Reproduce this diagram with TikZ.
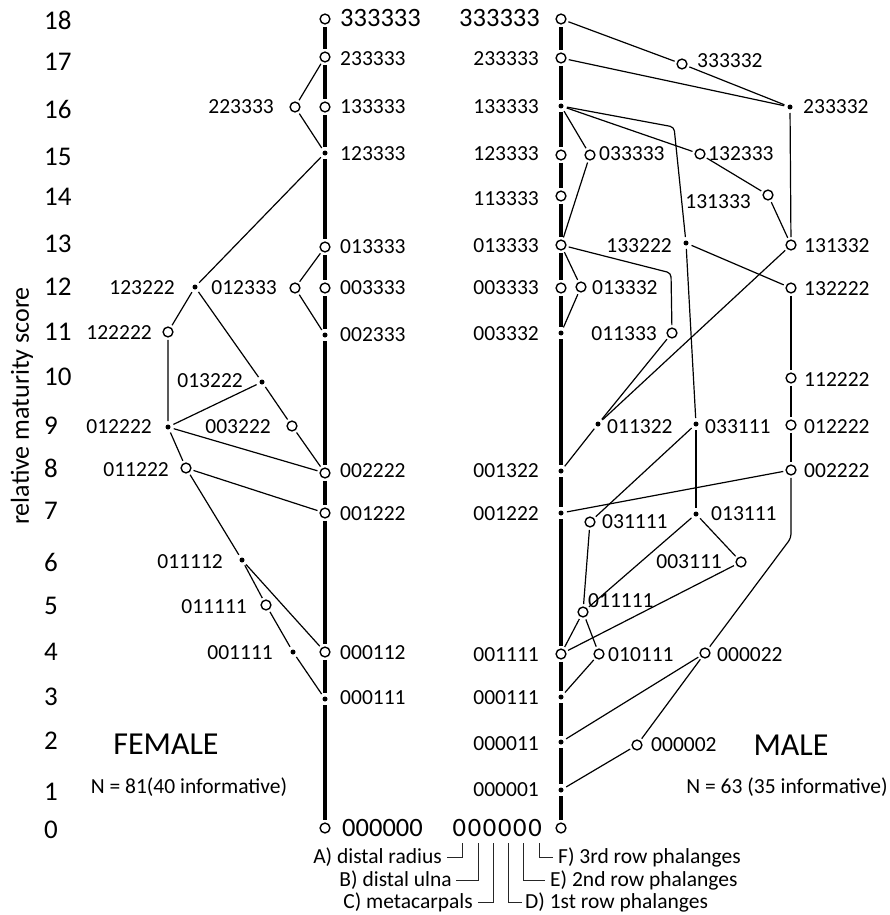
\documentclass[tikz,border=0pt]{standalone}
\usepackage{fontspec}
\setmainfont{Carlito}
\begin{document}
\begin{tikzpicture}[x=1pt,y=-1pt,
 oc/.style={circle,draw,line width=1.4pt,minimum size=9.8pt,inner sep=0pt,outer sep=3pt,fill=white},
 dt/.style={circle,fill,minimum size=5pt,inner sep=0pt,outer sep=3.5pt},
 lb/.style={inner sep=0pt,font=\fontsize{21.5}{21.5}\selectfont},
 big/.style={inner sep=0pt,font=\fontsize{26.5}{26.5}\selectfont},
 ax/.style={inner sep=0pt,font=\fontsize{27}{27}\selectfont,anchor=west},
 ed/.style={line width=1.2pt},
 spine/.style={line width=3.3pt},
 brk/.style={line width=0.9pt,draw=black!85},
 rc/.style={ed,rounded corners=4pt}]
\useasboundingbox (0,0) rectangle (890,915);

% axis
\node[ax] (a18) at (44,20) {18};
\node[ax] (a17) at (44,62) {17};
\node[ax] (a16) at (44,109) {16};
\node[ax] (a15) at (44,157) {15};
\node[ax] (a14) at (44,197) {14};
\node[ax] (a13) at (44,244) {13};
\node[ax] (a12) at (44,287) {12};
\node[ax] (a11) at (44,332) {11};
\node[ax] (a10) at (44,377) {10};
\node[ax] (a9) at (44,426) {9};
\node[ax] (a8) at (44,468) {8};
\node[ax] (a7) at (44,511) {7};
\node[ax] (a6) at (44,562) {6};
\node[ax] (a5) at (44,606) {5};
\node[ax] (a4) at (44,652) {4};
\node[ax] (a3) at (44,697) {3};
\node[ax] (a2) at (44,741) {2};
\node[ax] (a1) at (44,792) {1};
\node[ax] (a0) at (44,830) {0};
\node[rotate=90,inner sep=0pt,font=\fontsize{26}{26}\selectfont] (ytitle) at (22,406) {relative maturity score};

% ---------------- FEMALE ----------------
\node[oc] (f333333) at (325,19) {};
\node[oc] (f233333) at (325,57) {};
\node[oc] (f223333) at (295,107) {};
\node[oc] (f133333) at (325,107) {};
\node[dt] (f123333) at (325,153) {};
\node[oc] (f013333) at (325,247) {};
\node[dt] (f123222) at (195,287) {};
\node[oc] (f012333) at (295,288) {};
\node[oc] (f003333) at (325,288) {};
\node[oc] (f122222) at (168,332) {};
\node[dt] (f002333) at (325,335) {};
\node[dt] (f013222) at (262,382) {};
\node[dt] (f012222) at (168,427) {};
\node[oc] (f003222) at (292,426) {};
\node[oc] (f011222) at (186,468) {};
\node[oc] (f002222) at (325,473) {};
\node[oc] (f001222) at (325,513) {};
\node[dt] (f011112) at (242,560) {};
\node[oc] (f011111) at (266,605) {};
\node[dt] (f001111) at (293,652) {};
\node[oc] (f000112) at (325,652) {};
\node[dt] (f000111) at (325,699) {};
\node[oc] (f000000) at (325,828) {};

\node[big,anchor=west] (lf333333) at (340,18) {333333};
\node[lb,anchor=west] (lf233333) at (340,59) {233333};
\node[lb,anchor=east] (lf223333) at (274,107) {223333};
\node[lb,anchor=west] (lf133333) at (340,107) {133333};
\node[lb,anchor=west] (lf123333) at (340,154) {123333};
\node[lb,anchor=west] (lf013333) at (340,247) {013333};
\node[lb,anchor=east] (lf123222) at (175,288) {123222};
\node[lb,anchor=east] (lf012333) at (277,288) {012333};
\node[lb,anchor=west] (lf003333) at (340,288) {003333};
\node[lb,anchor=east] (lf122222) at (152,333) {122222};
\node[lb,anchor=west] (lf002333) at (340,335) {002333};
\node[lb,anchor=east] (lf013222) at (243,381) {013222};
\node[lb,anchor=east] (lf012222) at (152,427) {012222};
\node[lb,anchor=east] (lf003222) at (271,427) {003222};
\node[lb,anchor=east] (lf011222) at (169,470) {011222};
\node[lb,anchor=west] (lf002222) at (340,471) {002222};
\node[lb,anchor=west] (lf001222) at (340,514) {001222};
\node[lb,anchor=east] (lf011112) at (223,562) {011112};
\node[lb,anchor=east] (lf011111) at (247,607) {011111};
\node[lb,anchor=east] (lf001111) at (273,653) {001111};
\node[lb,anchor=west] (lf000112) at (340,653) {000112};
\node[lb,anchor=west] (lf000111) at (340,698) {000111};
\node[big,anchor=west] (lf000000) at (342,828) {000000};

\draw[spine] (f333333) -- (f233333) -- (f133333) -- (f123333) -- (f013333) -- (f003333) -- (f002333) -- (f002222) -- (f001222) -- (f000112) -- (f000111) -- (f000000);
\draw[ed] (f233333) -- (f223333) -- (f123333);
\draw[ed] (f123333) -- (f123222);
\draw[ed] (f013333) -- (f012333) -- (f002333);
\draw[ed] (f123222) -- (f122222) -- (f012222);
\draw[ed] (f123222) -- (f013222) -- (f003222) -- (f002222);
\draw[ed] (f013222) -- (f012222);
\draw[ed] (f012222) -- (f002222);
\draw[ed] (f012222) -- (f011222);
\draw[ed] (f011222) -- (f001222);
\draw[ed] (f011222) -- (f011112);
\draw[ed] (f011112) -- (f011111) -- (f001111) -- (f000111);
\draw[ed] (f011112) -- (f000112);

\node[font=\fontsize{32}{32}\selectfont,inner sep=0pt] (female) at (166,744) {FEMALE};
\node[lb] (fn) at (189,787) {N = 81(40 informative)};

% ---------------- MALE ----------------
\node[oc] (m333333) at (561,19) {};
\node[oc] (m233333) at (561,58) {};
\node[oc] (m333332) at (682,64) {};
\node[dt] (m133333) at (561,106) {};
\node[dt] (m233332) at (790,107) {};
\node[oc] (m123333) at (561,155) {};
\node[oc] (m033333) at (590,155) {};
\node[oc] (m132333) at (700,154) {};
\node[oc] (m113333) at (561,196) {};
\node[oc] (m131333) at (768,195) {};
\node[oc] (m013333) at (561,245) {};
\node[dt] (m133222) at (686,243) {};
\node[oc] (m131332) at (791,245) {};
\node[oc] (m003333) at (561,288) {};
\node[oc] (m013332) at (581,287) {};
\node[oc] (m132222) at (791,288) {};
\node[dt] (m003332) at (561,333) {};
\node[oc] (m011333) at (672,333) {};
\node[oc] (m112222) at (791,378) {};
\node[dt] (m011322) at (598,424) {};
\node[dt] (m033111) at (696,424) {};
\node[oc] (m012222) at (791,425) {};
\node[dt] (m001322) at (561,471) {};
\node[oc] (m002222) at (791,470) {};
\node[dt] (m001222) at (561,513) {};
\node[oc] (m031111) at (590,522) {};
\node[dt] (m013111) at (696,514) {};
\node[oc] (m003111) at (741,562) {};
\node[oc] (m011111) at (583,612) {};
\node[oc] (m001111) at (561,654) {};
\node[oc] (m010111) at (599,654) {};
\node[oc] (m000022) at (705,653) {};
\node[dt] (m000111) at (561,697) {};
\node[dt] (m000011) at (561,742) {};
\node[oc] (m000002) at (637,745) {};
\node[dt] (m000001) at (561,790) {};
\node[oc] (m000000) at (561,828) {};

\coordinate (bendA) at (674,127);
\coordinate (bendB) at (671,273);
\coordinate (bendC) at (791,538);

\node[big,anchor=east] (lm333333) at (540,18) {333333};
\node[lb,anchor=east] (lm233333) at (539,59) {233333};
\node[lb,anchor=west] (lm333332) at (697,61) {333332};
\node[lb,anchor=east] (lm133333) at (539,107) {133333};
\node[lb,anchor=west] (lm233332) at (803,107) {233332};
\node[lb,anchor=east] (lm123333) at (539,154) {123333};
\node[lb,anchor=west] (lm033333) at (599,154) {033333};
\node[lb,anchor=west] (lm132333) at (708,154) {132333};
\node[lb,anchor=east] (lm113333) at (539,199) {113333};
\node[lb,anchor=east] (lm131333) at (751,202) {131333};
\node[lb,anchor=east] (lm013333) at (539,246) {013333};
\node[lb,anchor=east] (lm133222) at (672,246) {133222};
\node[lb,anchor=west] (lm131332) at (804,246) {131332};
\node[lb,anchor=east] (lm003333) at (539,288) {003333};
\node[lb,anchor=west] (lm013332) at (592,288) {013332};
\node[lb,anchor=west] (lm132222) at (804,289) {132222};
\node[lb,anchor=east] (lm003332) at (539,334) {003332};
\node[lb,anchor=east] (lm011333) at (657,334) {011333};
\node[lb,anchor=west] (lm112222) at (804,380) {112222};
\node[lb,anchor=west] (lm011322) at (607,427) {011322};
\node[lb,anchor=west] (lm033111) at (705,427) {033111};
\node[lb,anchor=west] (lm012222) at (804,427) {012222};
\node[lb,anchor=east] (lm001322) at (539,471) {001322};
\node[lb,anchor=west] (lm002222) at (804,471) {002222};
\node[lb,anchor=east] (lm001222) at (539,514) {001222};
\node[lb,anchor=west] (lm031111) at (602,522) {031111};
\node[lb,anchor=west] (lm013111) at (711,514) {013111};
\node[lb,anchor=east] (lm003111) at (722,562) {003111};
\node[lb,anchor=west] (lm011111) at (588,601) {011111};
\node[lb,anchor=east] (lm001111) at (539,655) {001111};
\node[lb,anchor=west] (lm010111) at (608,655) {010111};
\node[lb,anchor=west] (lm000022) at (717,655) {000022};
\node[lb,anchor=east] (lm000111) at (539,698) {000111};
\node[lb,anchor=east] (lm000011) at (539,744) {000011};
\node[lb,anchor=west] (lm000002) at (651,745) {000002};
\node[lb,anchor=east] (lm000001) at (539,790) {000001};
\node[big,anchor=east] (lm000000) at (542,828) {0\kern1.7pt0\kern1.7pt0\kern1.7pt0\kern1.7pt0\kern1.7pt0};

\draw[spine] (m333333) -- (m233333) -- (m133333) -- (m123333) -- (m113333) -- (m013333) -- (m003333) -- (m003332) -- (m001322) -- (m001222) -- (m001111) -- (m000111) -- (m000011) -- (m000001) -- (m000000);
\draw[ed] (m333333) -- (m333332) -- (m233332);
\draw[ed] (m233333) -- (m233332);
\draw[ed] (m133333) -- (m033333) -- (m013333);
\draw[ed] (m133333) -- (m132333) -- (m131333) -- (m131332);
\draw[rc] (m133333) -- (bendA) -- (m133222);
\draw[ed] (m233332) -- (m131332);
\draw[ed] (m013333) -- (m013332) -- (m003332);
\draw[rc] (m013333) -- (bendB) -- (m011333);
\draw[ed] (m133222) -- (m132222);
\draw[ed] (m133222) -- (m033111);
\draw[ed] (m131332) -- (m011322);
\draw[ed] (m011333) -- (m011322) -- (m001322);
\draw[ed] (m132222) -- (m112222) -- (m012222) -- (m002222);
\draw[ed] (m002222) -- (m001222);
\draw[rc] (m002222) -- (bendC) -- (m000022);
\draw[ed] (m033111) -- (m031111) -- (m011111);
\draw[ed] (m033111) -- (m013111);
\draw[ed] (m013111) -- (m011111);
\draw[ed] (m013111) -- (m003111) -- (m001111);
\draw[ed] (m011111) -- (m001111);
\draw[ed] (m011111) -- (m010111) -- (m000111);
\draw[ed] (m000022) -- (m000011);
\draw[ed] (m000022) -- (m000002) -- (m000001);

\node[font=\fontsize{32}{32}\selectfont,inner sep=0pt] (male) at (791,745) {MALE};
\node[lb] (mn) at (787,787) {N = 63 (35 informative)};

% ---------------- legend ----------------
\coordinate (bA) at (462,843);
\coordinate (bB) at (478,843);
\coordinate (bC) at (493,843);
\coordinate (bD) at (508,843);
\coordinate (bE) at (523,843);
\coordinate (bF) at (539,843);
\node[lb,anchor=east] (legA) at (442,857) {A) distal radius};
\node[lb,anchor=east] (legB) at (452,880) {B) distal ulna};
\node[lb,anchor=east] (legC) at (473,902) {C) metacarpals};
\node[lb,anchor=west] (legD) at (525,902) {D) 1st row phalanges};
\node[lb,anchor=west] (legE) at (550,880) {E) 2nd row phalanges};
\node[lb,anchor=west] (legF) at (558,857) {F) 3rd row phalanges};
\draw[brk] ([xshift=5pt]legA.east) -| (bA);
\draw[brk] ([xshift=4pt]legB.east) -| (bB);
\draw[brk] ([xshift=5pt]legC.east) -| (bC);
\draw[brk] (bD) |- ([xshift=-3pt]legD.west);
\draw[brk] (bE) |- ([xshift=-5pt]legE.west);
\draw[brk] (bF) |- ([xshift=-5pt]legF.west);
\end{tikzpicture}
\end{document}
